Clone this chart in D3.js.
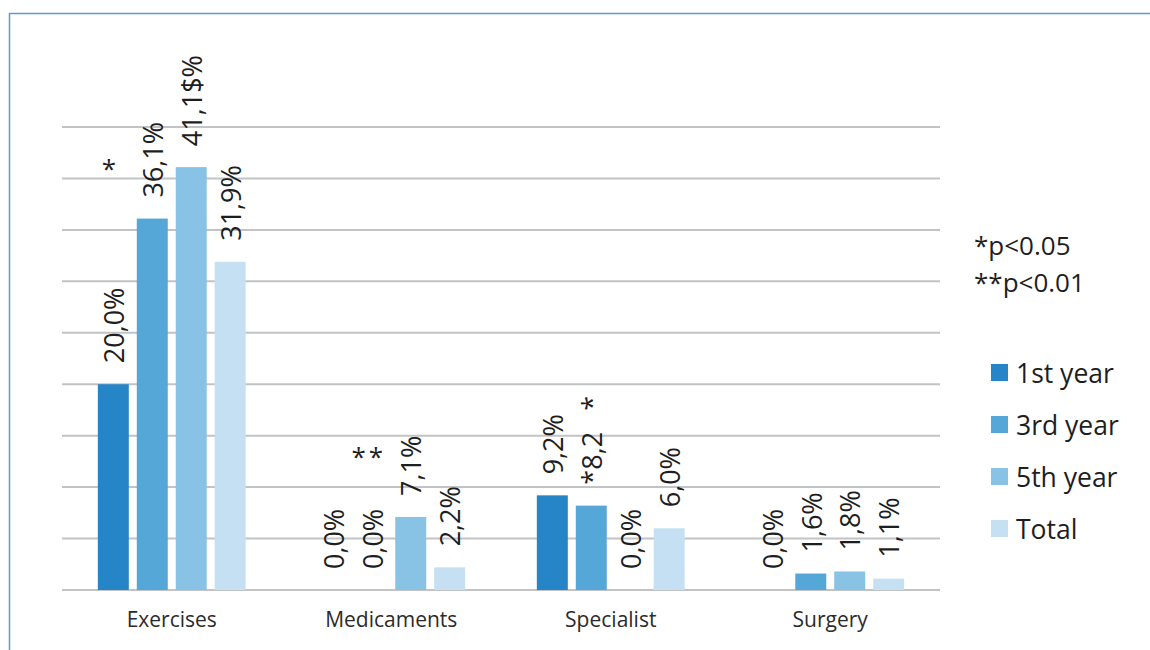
<!DOCTYPE html>
<html>
<head>
<meta charset="utf-8">
<script src="https://cdn.jsdelivr.net/npm/d3@7"></script>
<style>
  body { margin: 0; background: #fff; }
  svg { display: block; font-family: "Open Sans", "Lato", sans-serif; }
</style>
</head>
<body>
<div id="chart"></div>
<script>
const width = 1150;
const height = 650;

// données
const categories = ["Exercises", "Medicaments", "Specialist", "Surgery"];
const series = ["1st year", "3rd year", "5th year", "Total"];
const firstYear = [20.0, 0.0, 9.2, 0.0];
const thirdYear = [36.1, 0.0, 8.2, 1.6];
const fifthYear = [41.1, 7.1, 0.0, 1.8];
const total = [31.9, 2.2, 6.0, 1.1];
const firstLabels = ["20,0%", "0,0%", "9,2%", "0,0%"];
const thirdLabels = ["36,1%", "0,0%", "*8,2\u00a0\u00a0\u00a0*", "1,6%"];
const fifthLabels = ["41,1$%", "7,1%", "0,0%", "1,8%"];
const totalLabels = ["31,9%", "2,2%", "6,0%", "1,1%"];
const yTicks = [0, 5, 10, 15, 20, 25, 30, 35, 40, 45];
// annotations de significativité
const marks = [
  { cat: "Exercises", serie: "1st year", level: 41.2, text: "*" },
  { cat: "Medicaments", serie: "3rd year", level: 13.2, text: "**" }
];
const pNotes = ["*p<0.05", "**p<0.01"];
const colors = ["#2585c7", "#55a7d7", "#88c2e5", "#c4e0f2"];

const values = [firstYear, thirdYear, fifthYear, total];
const labels = [firstLabels, thirdLabels, fifthLabels, totalLabels];

const rows = [];
categories.forEach((c, i) => {
  series.forEach((s, j) => {
    rows.push({ cat: c, serie: s, value: values[j][i], label: labels[j][i], color: colors[j] });
  });
});

const plot = { left: 62, right: 940, top: 127, bottom: 590 };

const x0 = d3.scaleBand()
  .domain(categories)
  .range([plot.left, plot.right]);

const x1 = d3.scaleBand()
  .domain(series)
  .range([0, x0.bandwidth()])
  .paddingInner(0.205)
  .paddingOuter(0.92);

const y = d3.scaleLinear()
  .domain([0, 45])
  .range([plot.bottom, plot.top]);

const color = d3.scaleOrdinal().domain(series).range(colors);

const svg = d3.select("#chart").append("svg")
  .attr("width", width)
  .attr("height", height);

// cadre
svg.append("rect")
  .attr("x", 9.5)
  .attr("y", 13.5)
  .attr("width", width + 20)
  .attr("height", height + 20)
  .attr("fill", "none")
  .attr("stroke", "#5b9bd1")
  .attr("stroke-width", 1.5);

// grille
svg.append("g")
  .selectAll("line")
  .data(yTicks)
  .enter().append("line")
  .attr("x1", plot.left)
  .attr("x2", plot.right)
  .attr("y1", d => y(d))
  .attr("y2", d => y(d))
  .attr("stroke", "#c1c3c6")
  .attr("stroke-width", 2);

// barres
svg.append("g")
  .selectAll("rect")
  .data(rows)
  .enter().append("rect")
  .attr("x", d => x0(d.cat) + x1(d.serie))
  .attr("y", d => y(d.value))
  .attr("width", x1.bandwidth())
  .attr("height", d => y(0) - y(d.value))
  .attr("fill", d => d.color);

// étiquettes verticales
svg.append("g")
  .selectAll("text")
  .data(rows)
  .enter().append("text")
  .attr("transform", d => {
    const cx = x0(d.cat) + x1(d.serie) + x1.bandwidth() / 2 + 1;
    const cy = y(d.value) - 21;
    return `translate(${cx},${cy}) rotate(-90)`;
  })
  .attr("dy", "0.36em")
  .attr("font-size", 27)
  .attr("fill", "#1e1e1e")
  .text(d => d.label);

// astérisques
svg.append("g")
  .selectAll("text")
  .data(marks)
  .enter().append("text")
  .attr("x", d => x0(d.cat) + x1(d.serie) + x1.bandwidth() / 2 - 3)
  .attr("y", d => y(d.level) + 12)
  .attr("text-anchor", "middle")
  .attr("font-size", 26)
  .attr("letter-spacing", 3)
  .attr("fill", "#1e1e1e")
  .text(d => d.text);

// axe des catégories
const xAxis = svg.append("g")
  .attr("transform", `translate(0,${plot.bottom})`)
  .call(d3.axisBottom(x0).tickSize(0).tickPadding(22));
xAxis.select(".domain").remove();
xAxis.selectAll("text")
  .attr("font-size", 21)
  .attr("font-family", "Open Sans, Lato, sans-serif")
  .attr("fill", "#2b2b2b");

// notes p
svg.append("g")
  .selectAll("text")
  .data(pNotes)
  .enter().append("text")
  .attr("x", 974)
  .attr("y", (d, i) => 255 + i * 37)
  .attr("font-size", 26)
  .attr("fill", "#1e1e1e")
  .text(d => d);

// légende
const legend = svg.append("g")
  .selectAll("g")
  .data(series)
  .enter().append("g")
  .attr("transform", (d, i) => `translate(991,${364 + i * 52})`);

legend.append("rect")
  .attr("width", 17)
  .attr("height", 17)
  .attr("fill", d => color(d));

legend.append("text")
  .attr("x", 25)
  .attr("y", 9)
  .attr("dy", "0.36em")
  .attr("font-size", 26.5)
  .attr("fill", "#1e1e1e")
  .text(d => d);
</script>
</body>
</html>
